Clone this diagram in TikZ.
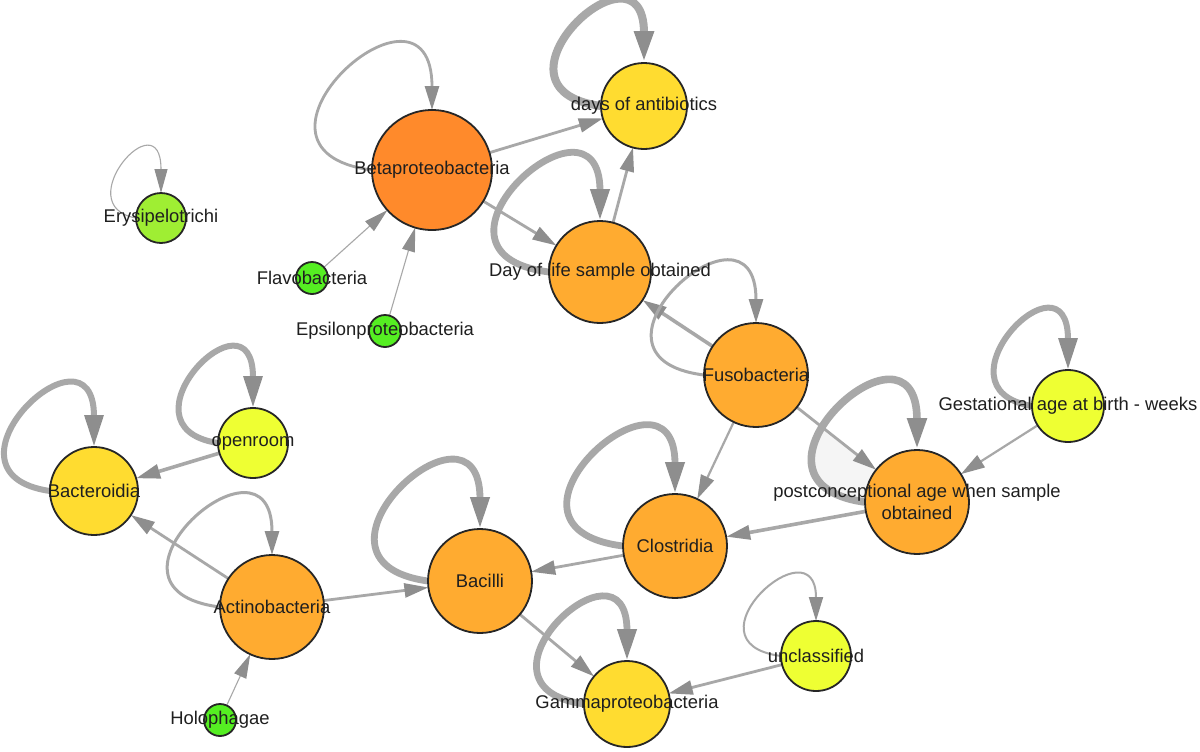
\documentclass[tikz,border=0pt]{standalone}
\usepackage{fontspec}
\setmainfont{Liberation Sans}
\usetikzlibrary{arrows.meta}
\pgfdeclarelayer{background}
\pgfsetlayers{background,main}
\definecolor{edgegray}{HTML}{A8A8A8}
\definecolor{tipgray}{HTML}{8E8E8E}
\definecolor{betaorange}{HTML}{FF8A2B}
\definecolor{midorange}{HTML}{FFAB30}
\definecolor{goldyellow}{HTML}{FFDC30}
\definecolor{limeyellow}{HTML}{EEFF33}
\definecolor{yellowgreen}{HTML}{9FEE33}
\definecolor{brightgreen}{HTML}{55EE22}
\begin{document}
\begin{tikzpicture}[x=0.5pt, y=-0.5pt, main node/.style={circle,draw=black!85,line width=0.9pt,inner sep=0pt,outer sep=0pt},
thin edge/.style={draw=edgegray,line width=0.55pt,-{Triangle[length=12pt,width=6.5pt,color=tipgray]}},
mid edge/.style={draw=edgegray,line width=1.4pt,-{Triangle[length=12pt,width=7pt,color=tipgray]}},
thick edge/.style={draw=edgegray,line width=3.4pt,-{Triangle[length=16pt,width=9pt,color=tipgray]}}]
\useasboundingbox (0,0) rectangle (1200,751);
\begin{scope}[every label/.style={font=\fontsize{9.2}{11.2}\selectfont,text=black!88,inner sep=0pt,align=center}]
\node[main node,fill=yellowgreen,minimum size=25pt,label=center:Erysipelotrichi] (ery) at (161,218) {};
\node[main node,fill=betaorange,minimum size=60pt,label=center:Betaproteobacteria] (beta) at (432,170) {};
\node[main node,fill=goldyellow,minimum size=43pt,label=center:days of antibiotics] (days) at (644,106) {};
\node[main node,fill=brightgreen,minimum size=16pt,label=center:Flavobacteria] (flavo) at (312,278) {};
\node[main node,fill=brightgreen,minimum size=16pt,label=center:Epsilonproteobacteria] (eps) at (385,331) {};
\node[main node,fill=midorange,minimum size=51pt,label=center:Day of life sample obtained] (dol) at (600,272) {};
\node[main node,fill=midorange,minimum size=52pt,label=center:Fusobacteria] (fuso) at (756,375) {};
\node[main node,fill=limeyellow,minimum size=36pt,label=center:Gestational age at birth - weeks] (gest) at (1068,406) {};
\node[main node,fill=midorange,minimum size=52pt,label={center:{postconceptional age when sample\\obtained}}] (pca) at (917,502) {};
\node[main node,fill=limeyellow,minimum size=35pt,label=center:openroom] (open) at (253,443) {};
\node[main node,fill=goldyellow,minimum size=44pt,label=center:Bacteroidia] (bact) at (94,491) {};
\node[main node,fill=midorange,minimum size=52pt,label=center:Clostridia] (clos) at (675,546) {};
\node[main node,fill=midorange,minimum size=52pt,label=center:Bacilli] (baci) at (480,581) {};
\node[main node,fill=midorange,minimum size=52pt,label=center:Actinobacteria] (actino) at (272,607) {};
\node[main node,fill=brightgreen,minimum size=16pt,label=center:Holophagae] (holo) at (220,720) {};
\node[main node,fill=limeyellow,minimum size=35pt,label=center:unclassified] (uncl) at (816,656) {};
\node[main node,fill=goldyellow,minimum size=43pt,label=center:Gammaproteobacteria] (gamma) at (627,704) {};
\end{scope}
\begin{pgfonlayer}{background}
\fill[white] (0,0) rectangle (1200,751);
\begin{scope}
\clip (700,331) -- (980,552) -- (980,720) -- (700,720) -- cycle;
\fill[black!4] (pca.west) .. controls +(-146,-20) and +(0,-150) .. (pca.north) -- cycle;
\end{scope}
\begin{scope}
\draw[thin edge] (flavo) -- (beta);
\draw[thin edge] (eps) -- (beta);
\draw[thin edge] (holo) -- (actino);
\draw[mid edge] (beta) -- (days);
\draw[mid edge] (beta) -- (dol);
\draw[mid edge] (dol) -- (days);
\draw[mid edge,line width=1.8pt] (fuso) -- (dol);
\draw[mid edge] (fuso) -- (pca);
\draw[mid edge,line width=1.1pt] (fuso) -- (clos);
\draw[mid edge,line width=1.1pt] (gest) -- (pca);
\draw[mid edge,line width=1.8pt] (pca) -- (clos);
\draw[mid edge] (clos) -- (baci);
\draw[mid edge] (actino) -- (baci);
\draw[mid edge] (actino) -- (bact);
\draw[mid edge,line width=1.8pt] (open) -- (bact);
\draw[mid edge] (baci) -- (gamma);
\draw[mid edge] (uncl) -- (gamma);
% self loops
\draw[thin edge] (ery.west) .. controls +(-69,-12) and +(0,-95) .. (ery.north);
\draw[mid edge] (beta.west) .. controls +(-157,-20) and +(0,-155) .. (beta.north);
\draw[thick edge,line width=4pt] (days.west) .. controls +(-128,-17) and +(0,-133) .. (days.north);
\draw[thick edge] (dol.west) .. controls +(-149,-19) and +(0,-145) .. (dol.north);
\draw[mid edge,line width=1.5pt] (fuso.west) .. controls +(-144,-18) and +(0,-140) .. (fuso.north);
\draw[thick edge,line width=3pt] (gest.west) .. controls +(-104,-17) and +(0,-125) .. (gest.north);
\draw[thick edge,line width=3.8pt] (pca.west) .. controls +(-146,-20) and +(0,-150) .. (pca.north);
\draw[thick edge,line width=3pt] (open.west) .. controls +(-106,-16) and +(0,-125) .. (open.north);
\draw[thick edge,line width=3pt] (bact.west) .. controls +(-125,-18) and +(0,-135) .. (bact.north);
\draw[thick edge] (clos.west) .. controls +(-152,-19) and +(0,-147) .. (clos.north);
\draw[thick edge] (baci.west) .. controls +(-146,-20) and +(0,-148) .. (baci.north);
\draw[mid edge,line width=1.5pt] (actino.west) .. controls +(-144,-18) and +(0,-138) .. (actino.north);
\draw[mid edge,line width=1pt] (uncl.west) .. controls +(-101,-13) and +(0,-100) .. (uncl.north);
\draw[thick edge] (gamma.west) .. controls +(-128,-18) and +(0,-134) .. (gamma.north);
\end{scope}
\end{pgfonlayer}
\end{tikzpicture}
\end{document}
